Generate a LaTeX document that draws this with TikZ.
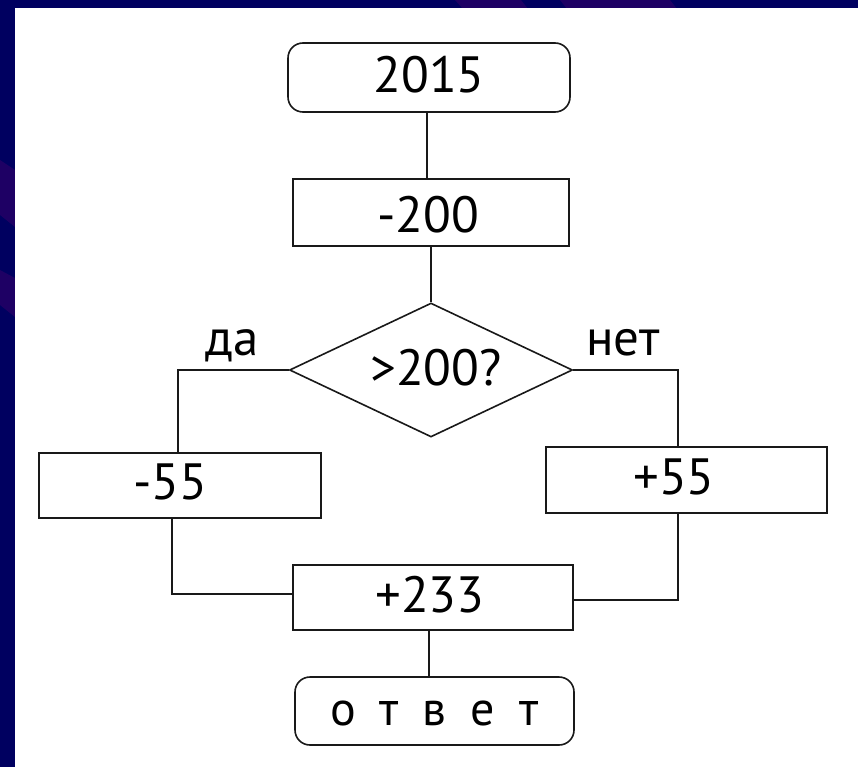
\documentclass[tikz,border=0pt]{standalone}
\usepackage{fontspec}
\setmainfont{PT Sans}
\usetikzlibrary{shapes.geometric}
\definecolor{navy}{RGB}{0,0,96}
\definecolor{plum}{RGB}{30,0,100}
\definecolor{ink}{RGB}{25,25,25}
\begin{document}
\begin{tikzpicture}[x=1pt,y=-1pt,
  proc/.style={draw=ink, line width=1.6pt, rectangle, inner sep=0pt, fill=white},
  term/.style={proc, rounded corners=15pt},
  dec/.style={draw=ink, line width=1.6pt, diamond, inner sep=0pt, aspect=2.1, fill=white},
  txt/.style={font=\fontsize{51}{60}\selectfont, inner sep=0pt, text=black},
  small/.style={font=\fontsize{48}{56}\selectfont, inner sep=0pt, text=black},
  conn/.style={draw=ink, line width=1.6pt}]
\useasboundingbox (0,0) rectangle (858,767);
\fill[navy] (0,0) rectangle (858,767);
\fill[plum] (455,0) -- (521,0) -- (528,9) -- (463,9) -- cycle;
\fill[plum] (560,0) -- (670,0) -- (677,9) -- (567,9) -- cycle;
\fill[plum] (0,160) -- (15,170) -- (15,227) -- (0,215) -- cycle;
\fill[plum] (0,270) -- (15,278) -- (15,317) -- (0,305) -- cycle;
\fill[white] (15,8) rectangle (858,767);

\node[term, minimum width=282pt, minimum height=69pt,
  label={[txt, shift={(0,-2.5)}]center:2015}] (start) at (429,77.5) {};
\node[proc, minimum width=276pt, minimum height=67pt,
  label={[txt, shift={(-3,2.5)}]center:-200}] (m200) at (431,212.5) {};
\node[dec, minimum width=283pt, minimum height=134pt,
  label={[txt, shift={(5,-2)}]center:>200?}] (dia) at (431,370) {};
\node[proc, minimum width=282pt, minimum height=65pt,
  label={[txt, shift={(-10,-4)}]center:-55}] (m55) at (180,485.5) {};
\node[proc, minimum width=281pt, minimum height=66pt,
  label={[txt, shift={(-12.5,-3)}]center:+55}] (p55) at (686.5,480) {};
\node[proc, minimum width=280pt, minimum height=65pt,
  label={[txt, shift={(-3,-2.5)}]center:+233}] (a233) at (433,597.5) {};
\node[term, minimum width=279pt, minimum height=68pt,
  label={[small, shift={(0,2)}]center:{\addfontfeature{LetterSpace=50}ответ}}] (ans) at (434.5,711) {};

\node[txt, anchor=base] (yes) at (232,355) {да};
\node[txt, anchor=base] (no) at (623,355) {нет};

\draw[conn] ([xshift=-2]start.south) -- ([xshift=-2]start.south |- m200.north);
\draw[conn] (m200.south) -- (dia.north);
\draw[conn] (dia.west) -| ([xshift=-2]m55.north);
\draw[conn] (dia.east) -| ([xshift=-8.5]p55.north);
\draw[conn] ([xshift=-8]m55.south) |- ([yshift=3.5]a233.west);
\draw[conn] ([xshift=-8.5]p55.south) |- ([yshift=-2.5]a233.east);
\draw[conn] ([xshift=-4]a233.south) -- ([xshift=-4]a233.south |- ans.north);
\end{tikzpicture}
\end{document}
